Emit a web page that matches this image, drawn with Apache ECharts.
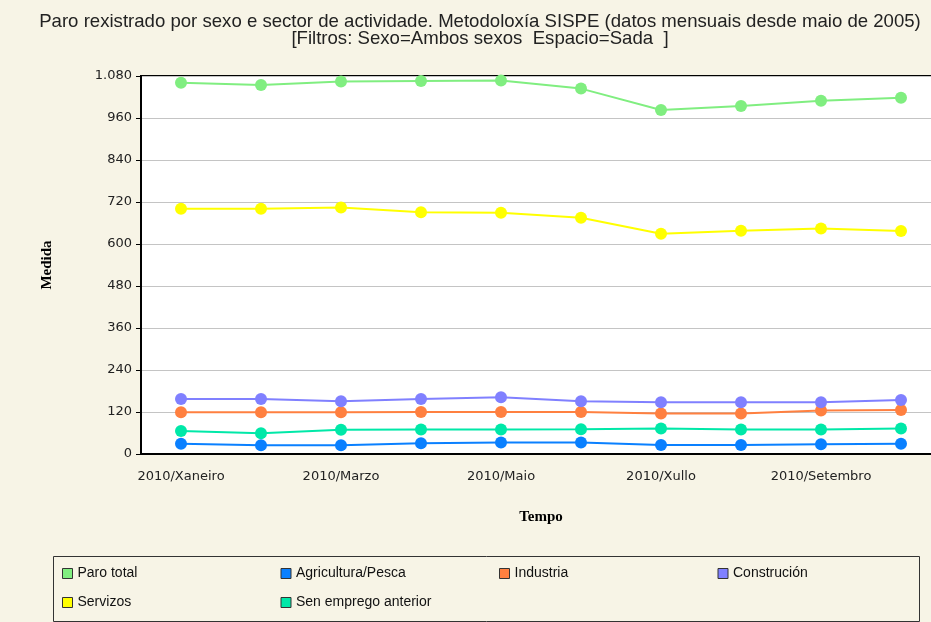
<!DOCTYPE html>
<html>
<head>
<meta charset="utf-8">
<script src="https://cdn.jsdelivr.net/npm/echarts@6/dist/echarts.min.js"></script>
<style>
  html, body { margin: 0; padding: 0; background: #f7f4e6; overflow: hidden; }
  /* the plot runs a little past the right edge of the window */
  #chart { width: 941px; height: 622px; }
</style>
</head>
<body>
<div id="chart"></div>
<script>
// Months of 2010 shown on the category axis
const months = [
  '2010/Xaneiro', '2010/Febreiro', '2010/Marzo', '2010/Abril', '2010/Maio',
  '2010/Xuño', '2010/Xullo', '2010/Agosto', '2010/Setembro', '2010/Outubro'
];

// Registered unemployment by activity sector (Sada, both sexes)
const paroTotal      = [1061, 1054, 1064, 1066, 1067, 1044, 983, 994, 1009, 1018];
const agricultura    = [29, 25, 25, 31, 33, 33, 26, 26, 28, 29];
const industria      = [119, 119, 119, 120, 120, 120, 116, 116, 124, 126];
const construcion    = [157, 157, 151, 157, 162, 151, 148, 148, 148, 154];
const servizos       = [701, 701, 704, 691, 689, 675, 629, 638, 644, 637];
const senEmprego     = [66, 59, 69, 70, 70, 71, 73, 70, 70, 73];

const seriesNames = ['Paro total', 'Agricultura/Pesca', 'Industria', 'Construción', 'Servizos', 'Sen emprego anterior'];
const seriesData  = [paroTotal, agricultura, industria, construcion, servizos, senEmprego];
const seriesColors = ['#80ee80', '#0a80ff', '#ff8040', '#8080ff', '#ffff00', '#00e8a8'];

// Y axis scale
const yMin = 0, yMax = 1080, yStep = 120;

function thousands(v) {
  const s = String(Math.round(v));
  return s.replace(/\B(?=(\d{3})+(?!\d))/g, '.');
}

const chart = echarts.init(document.getElementById('chart'), null, { renderer: 'canvas' });

chart.setOption({
  backgroundColor: '#f7f4e6',
  animation: false,
  title: {
    text: 'Paro rexistrado por sexo e sector de actividade. Metodoloxía SISPE (datos mensuais desde maio de 2005)\n[Filtros: Sexo=Ambos sexos  Espacio=Sada  ]',
    left: 475,
    top: 8,
    textAlign: 'center',
    textStyle: {
      fontFamily: 'Liberation Sans',
      fontSize: 18.6,
      fontWeight: 'normal',
      color: '#222',
      lineHeight: 17
    }
  },
  // legend frame
  graphic: [{
    type: 'rect',
    left: 53,
    top: 556,
    shape: { width: 866, height: 65 },
    style: { fill: '#f7f4e6', stroke: '#333', lineWidth: 1 },
    z: 0
  }],
  grid: {
    left: 141,
    top: 76,
    width: 800,
    bottom: 168,
    show: true,
    backgroundColor: '#ffffff',
    borderColor: '#000',
    borderWidth: 2
  },
  legend: {
    data: seriesNames,
    left: 62,
    top: 565,
    orient: 'horizontal',
    width: 880,
    padding: 0,
    itemGap: 12,
    itemWidth: 10,
    itemHeight: 10,
    icon: 'rect',
    itemStyle: { borderColor: '#333', borderWidth: 1 },
    z: 5,
    textStyle: {
      fontFamily: 'Liberation Sans',
      fontSize: 14,
      color: '#111',
      width: 191,
      lineHeight: 17
    }
  },
  xAxis: {
    type: 'category',
    data: months,
    boundaryGap: true,
    name: 'Tempo',
    nameLocation: 'middle',
    nameGap: 56,
    nameTextStyle: {
      fontFamily: 'Liberation Serif',
      fontWeight: 'bold',
      fontSize: 15,
      color: '#000'
    },
    axisLine: { lineStyle: { color: '#000', width: 2 } },
    axisTick: { alignWithLabel: true, length: 5, interval: 0, lineStyle: { color: '#000' } },
    axisLabel: {
      interval: 1,
      margin: 16,
      fontFamily: 'DejaVu Sans',
      fontSize: 13,
      color: '#222'
    },
    splitLine: { show: false }
  },
  yAxis: {
    type: 'value',
    min: yMin,
    max: yMax,
    interval: yStep,
    name: 'Medida',
    nameLocation: 'middle',
    nameGap: 86,
    nameRotate: 90,
    nameTextStyle: {
      fontFamily: 'Liberation Serif',
      fontWeight: 'bold',
      fontSize: 15,
      color: '#000'
    },
    axisLine: { show: true, lineStyle: { color: '#000', width: 2 } },
    axisTick: { show: true, length: 5, lineStyle: { color: '#000' } },
    axisLabel: {
      margin: 9,
      fontFamily: 'DejaVu Sans',
      fontSize: 13,
      color: '#222',
      formatter: thousands
    },
    splitLine: { lineStyle: { color: '#c4c4c4', width: 1 } }
  },
  series: seriesNames.map((name, i) => ({
    name: name,
    type: 'line',
    data: seriesData[i],
    symbol: 'circle',
    symbolSize: 12,
    lineStyle: { color: seriesColors[i], width: 2 },
    itemStyle: { color: seriesColors[i] }
  }))
});
</script>
</body>
</html>
